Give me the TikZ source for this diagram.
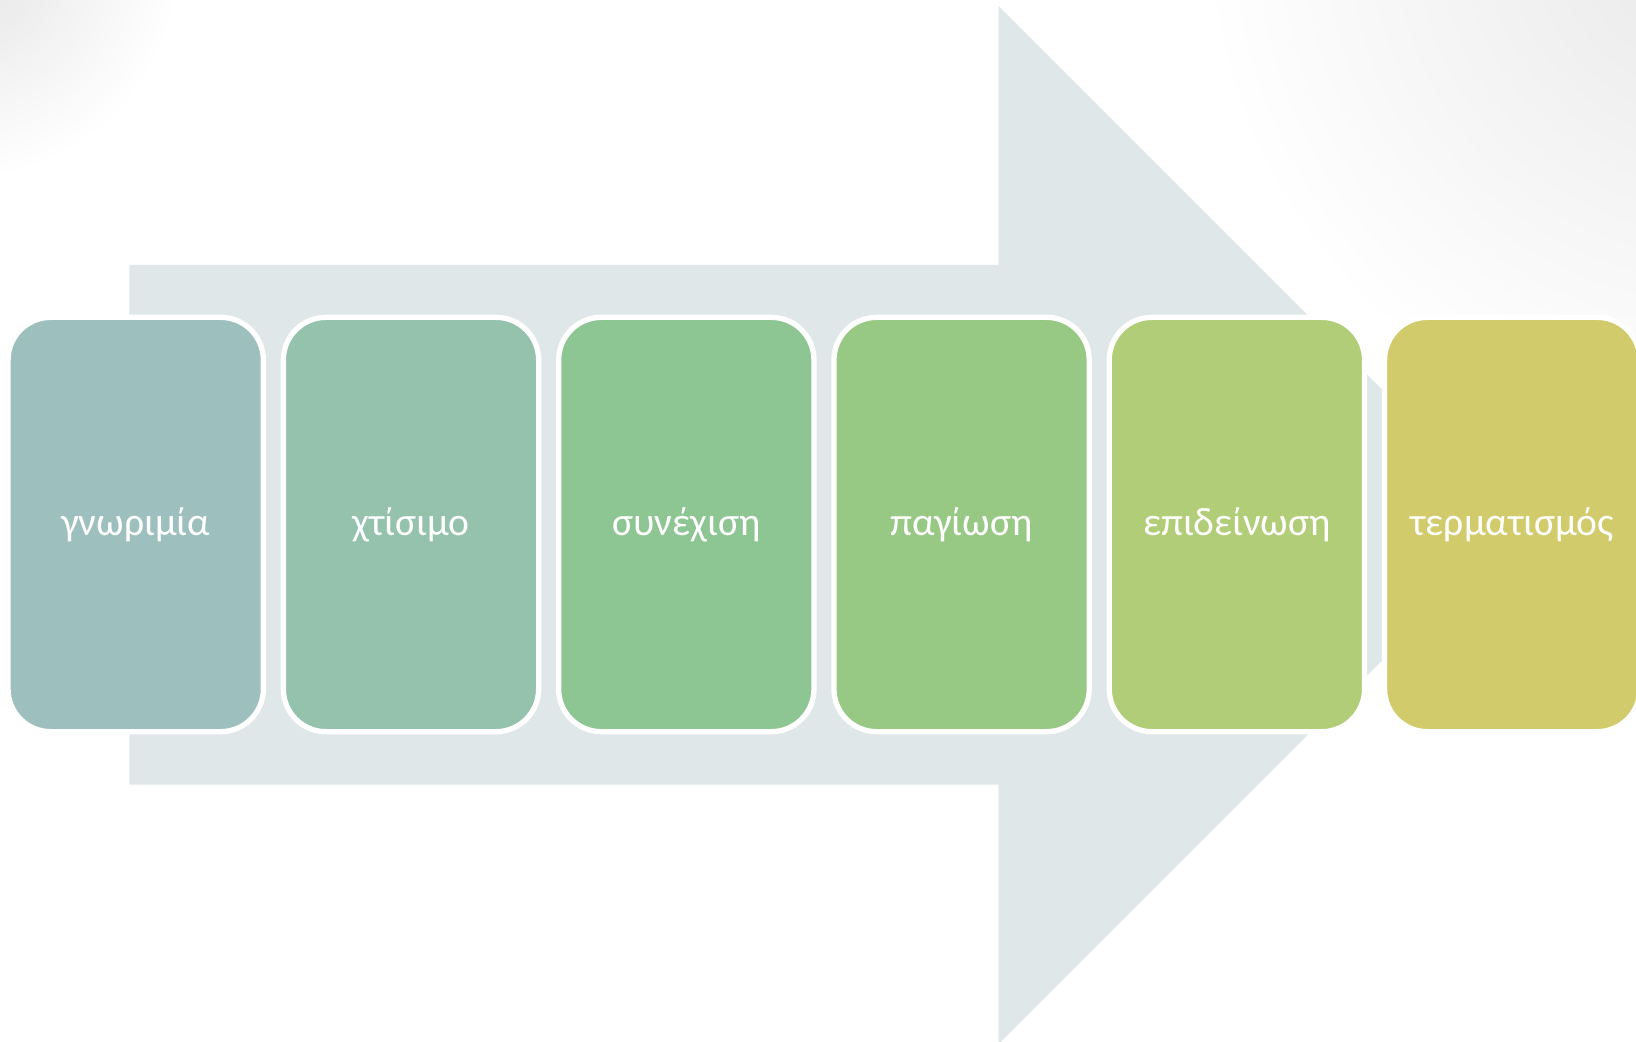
\documentclass[tikz,border=0pt]{standalone}
\usepackage{fontspec}
\setmainfont{Carlito}
\definecolor{arrowc}{HTML}{DFE7E8}
\definecolor{cA}{HTML}{9DBFBD}
\definecolor{cB}{HTML}{95C2AD}
\definecolor{cC}{HTML}{8DC593}
\definecolor{cD}{HTML}{97C984}
\definecolor{cE}{HTML}{B1CD77}
\definecolor{cF}{HTML}{D2CB6C}
\definecolor{vigL}{HTML}{E4E4E4}
\definecolor{vigR}{HTML}{E8E8E8}
\tikzset{
  box/.style={rectangle, rounded corners=21.3pt, draw=white, line width=2.65pt,
    minimum width=127.65pt, minimum height=207.15pt, inner sep=0pt,
    text=white, font=\fontsize{19.8pt}{24pt}\selectfont,
    text height=11.2pt, text depth=0pt},
  arrowshape/.style={fill=arrowc, draw=none}
}
\begin{document}
\begin{tikzpicture}[x=0.5pt,y=-0.5pt]
\useasboundingbox (0,0) rectangle (1636,1042);
\fill[white] (0,0) rectangle (1636,1042);
\begin{scope}
\clip (0,0) rectangle (1636,1042);
\shade[inner color=vigL, outer color=white] (-40,-40) circle (220);
\shade[inner color=vigR, outer color=white] (1720,-70) circle (520);
\end{scope}
% big arrow
\fill[arrowshape] (129.4,265) -- (998.5,265) -- (998.5,6) -- (1517.5,525)
  -- (998.5,1044) -- (998.5,784.6) -- (129.4,784.6) -- cycle;
% boxes
\node[box, fill=cA] (b1) at (135.7,524.5) {γνωριμία};
\node[box, fill=cB] (b2) at (411.0,524.5) {χτίσιμο};
\node[box, fill=cC] (b3) at (686.3,524.5) {συνέχιση};
\node[box, fill=cD] (b4) at (961.6,524.5) {παγίωση};
\node[box, fill=cE] (b5) at (1236.9,524.5) {επιδείνωση};
\node[box, fill=cF] (b6) at (1512.2,524.5) {τερματισμός};
\end{tikzpicture}
\end{document}
